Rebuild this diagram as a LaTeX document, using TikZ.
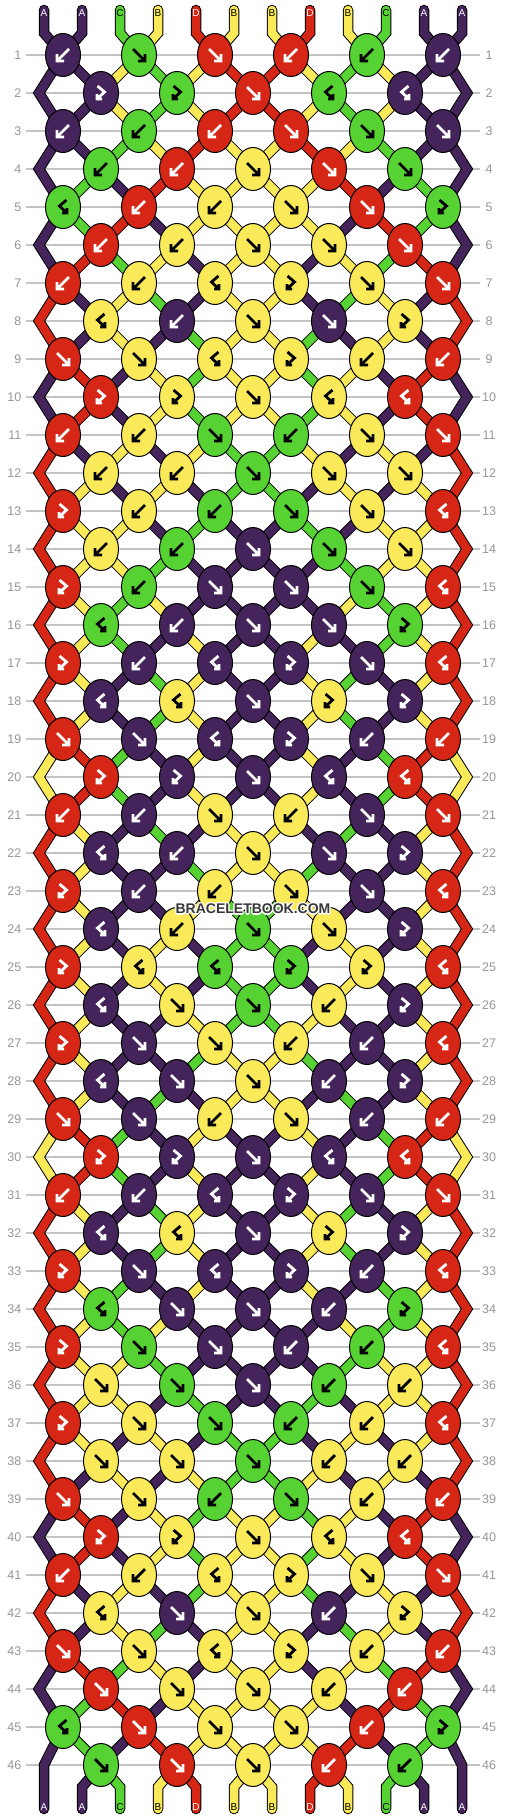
\documentclass[tikz,border=0pt]{standalone}
\usepackage{fontspec}
\setmainfont{Liberation Sans}
\usetikzlibrary{shapes.geometric}
\pgfdeclarelayer{back}
\pgfdeclarelayer{bg}
\pgfdeclarelayer{top}
\pgfsetlayers{back,bg,main,top}
\definecolor{cA}{RGB}{68,36,90}
\definecolor{cB}{RGB}{250,234,90}
\definecolor{cC}{RGB}{86,210,50}
\definecolor{cD}{RGB}{213,38,22}
\colorlet{aA}{white}\colorlet{aB}{black}\colorlet{aC}{black}\colorlet{aD}{white}
\colorlet{lA}{white}\colorlet{lB}{black}\colorlet{lC}{black}\colorlet{lD}{white}
\definecolor{numgray}{RGB}{150,150,150}
\definecolor{linegray}{RGB}{195,195,195}
\definecolor{wmcol}{RGB}{55,55,55}
\newcommand\defrow[2]{\expandafter\def\csname kr#1\endcsname{#2}}
\newcommand\KsSet[2]{\expandafter\xdef\csname ks#1\endcsname{#2}}
\newcommand\KsGet[1]{\csname ks#1\endcsname}
\def\Tf{f}\def\Tb{b}\def\Tfb{fb}\def\Tbf{bf}
\defrow{1}{b,f,f,b,b,b}
\defrow{2}{fb,fb,f,bf,bf}
\defrow{3}{b,b,b,f,f,f}
\defrow{4}{b,b,f,f,f}
\defrow{5}{bf,b,b,f,f,fb}
\defrow{6}{b,b,f,f,f}
\defrow{7}{b,b,bf,fb,f,f}
\defrow{8}{bf,b,f,f,fb}
\defrow{9}{f,f,bf,fb,b,b}
\defrow{10}{fb,fb,f,bf,bf}
\defrow{11}{b,b,f,b,f,f}
\defrow{12}{b,b,f,f,f}
\defrow{13}{fb,b,b,f,f,bf}
\defrow{14}{b,b,f,f,f}
\defrow{15}{fb,b,f,f,f,bf}
\defrow{16}{bf,b,f,f,fb}
\defrow{17}{fb,b,bf,fb,f,bf}
\defrow{18}{bf,bf,f,fb,fb}
\defrow{19}{f,f,bf,fb,b,b}
\defrow{20}{fb,fb,f,bf,bf}
\defrow{21}{b,b,f,b,f,f}
\defrow{22}{bf,b,f,f,fb}
\defrow{23}{fb,b,b,f,f,bf}
\defrow{24}{bf,b,f,f,fb}
\defrow{25}{fb,bf,bf,fb,fb,bf}
\defrow{26}{bf,f,f,b,fb}
\defrow{27}{fb,f,f,b,b,bf}
\defrow{28}{bf,f,f,b,fb}
\defrow{29}{f,f,b,f,b,b}
\defrow{30}{fb,fb,f,bf,bf}
\defrow{31}{b,b,bf,fb,f,f}
\defrow{32}{bf,bf,f,fb,fb}
\defrow{33}{fb,f,bf,fb,b,bf}
\defrow{34}{bf,f,f,b,fb}
\defrow{35}{fb,f,f,b,b,bf}
\defrow{36}{f,f,f,b,b}
\defrow{37}{fb,f,f,b,b,bf}
\defrow{38}{f,f,f,b,b}
\defrow{39}{f,f,b,f,b,b}
\defrow{40}{fb,fb,f,bf,bf}
\defrow{41}{b,b,bf,fb,f,f}
\defrow{42}{bf,f,f,b,fb}
\defrow{43}{f,f,bf,fb,b,b}
\defrow{44}{f,f,f,b,b}
\defrow{45}{bf,f,f,f,b,fb}
\defrow{46}{f,f,f,b,b}
\tikzset{
  knot/.style={ellipse, draw=black, line width=1pt, minimum width=35pt, minimum height=43pt, inner sep=0pt},
  conn/.style={draw=black, line width=1pt, double=#1, double distance=8.5pt, line join=miter, line cap=butt},
  gly/.style={draw=#1, line width=2.8pt, line cap=butt, line join=miter},
  rownum/.style={text=numgray, font=\fontsize{12.5}{12.5}\selectfont, inner sep=0pt},
  toplab/.style={font=\fontsize{10}{10}\selectfont, inner sep=0pt},
  wmk/.style={font=\fontsize{14}{14}\selectfont\bfseries, inner sep=0pt},
}
% incoming connector: #1 position, #2 colour letter, #3 row, #4 knot index
\newcommand\inconn[4]{%
  \edef\conncol{c#2}%
  \ifnum#3=1
    \draw[conn=\conncol, line cap=round] (ts-#1) -- (tb-#1) -- (k-#3-#4.center);
  \else
    \pgfmathtruncatemacro\rprev{#3-1}%
    \pgfmathtruncatemacro\rpprev{#3-2}%
    \pgfmathtruncatemacro\oddprev{mod(\rprev,2)}%
    \ifnum\oddprev=1
      \pgfmathtruncatemacro\srcj{(#1+1)/2}%
      \draw[conn=\conncol] (k-\rprev-\srcj.center) -- (k-#3-#4.center);
    \else
      \ifnum#1=1
        \draw[conn=\conncol] (k-\rpprev-1.center) -- (e-\rprev-1) -- (k-#3-#4.center);
      \else\ifnum#1=12
        \draw[conn=\conncol] (k-\rpprev-6.center) -- (e-\rprev-12) -- (k-#3-#4.center);
      \else
        \pgfmathtruncatemacro\srcj{#1/2}%
        \draw[conn=\conncol] (k-\rprev-\srcj.center) -- (k-#3-#4.center);
      \fi\fi
    \fi
  \fi}
% glyph: #1 type, #2 colour, #3 node
\newcommand\drawglyph[3]{%
  \edef\gtmp{#1}\edef\gcol{#2}%
  \ifx\gtmp\Tf
    \draw[gly=\gcol, shift={(#3.center)}] (-6,-6)--(6,6) (6,-1)--(6,6)--(-1,6);\fi
  \ifx\gtmp\Tb
    \draw[gly=\gcol, shift={(#3.center)}] (6,-6)--(-6,6) (-6,-1)--(-6,6)--(1,6);\fi
  \ifx\gtmp\Tfb
    \draw[gly=\gcol, shift={(#3.center)}] (-3.5,-7)--(3.5,-1)--(-4,6) (-4,1)--(-4,6)--(1,6);\fi
  \ifx\gtmp\Tbf
    \draw[gly=\gcol, shift={(#3.center)}] (3.5,-7)--(-3.5,-1)--(4,6) (4,1)--(4,6)--(-1,6);\fi
}
\begin{document}
\begin{tikzpicture}[x=1pt,y=-1pt]
\useasboundingbox (0,0) rectangle (506,1820);
% background, row numbers and guide lines (one layer block)
\begin{pgfonlayer}{back}
  \fill[white] (0,0) rectangle (506,1820);
  \foreach \rw in {1,...,46}{%
    \pgfmathsetmacro\y{55+38*(\rw-1)}%
    \node[rownum, anchor=east] (nl-\rw) at (21.5,\y) {\rw};
    \node[rownum] (nr-\rw) at (489,\y) {\rw};
    \coordinate (gl-\rw) at (26,\y);
    \coordinate (gr-\rw) at (480,\y);
    \draw[linegray, line width=1.3pt] (gl-\rw) -- (gr-\rw);
  }
\end{pgfonlayer}
% initial strings and top labels
\foreach \stc [count=\ps] in {A,A,C,B,D,B,B,D,B,C,A,A}{%
  \KsSet{\ps}{\stc}%
  \pgfmathsetmacro\xp{44+38*(\ps-1)}%
  \edef\lcol{l\stc}%
  \coordinate (ts-\ps) at (\xp,10);
  \coordinate (tb-\ps) at (\xp,33);
  \node[toplab, text=\lcol] (tl-\ps) at (\xp,13.5) {\stc};
}
% pass 1: knots (simulation)
\foreach \rw in {1,...,46}{%
  \pgfmathtruncatemacro\rodd{mod(\rw,2)}%
  \pgfmathsetmacro\y{55+38*(\rw-1)}%
  \ifnum\rodd=0
    \coordinate (e-\rw-1) at (39,\y);
    \coordinate (e-\rw-12) at (467,\y);
  \fi
  \expandafter\let\expandafter\types\csname kr\rw\endcsname
  \foreach \kt [count=\ki] in \types {%
    \ifnum\rodd=1
      \pgfmathtruncatemacro\posa{2*\ki-1}%
      \pgfmathsetmacro\x{76*\ki-13}%
    \else
      \pgfmathtruncatemacro\posa{2*\ki}%
      \pgfmathsetmacro\x{25+76*\ki}%
    \fi
    \pgfmathtruncatemacro\posb{\posa+1}%
    \edef\cL{\KsGet{\posa}}\edef\cR{\KsGet{\posb}}%
    \expandafter\xdef\csname inL\rw-\ki\endcsname{\cL}%
    \expandafter\xdef\csname inR\rw-\ki\endcsname{\cR}%
    \edef\ktt{\kt}%
    \ifx\ktt\Tf \edef\cK{\cL}\def\sw{1}\fi
    \ifx\ktt\Tb \edef\cK{\cR}\def\sw{1}\fi
    \ifx\ktt\Tfb \edef\cK{\cL}\def\sw{0}\fi
    \ifx\ktt\Tbf \edef\cK{\cR}\def\sw{0}\fi
    \edef\kfill{c\cK}%
    \node[knot, fill=\kfill] (k-\rw-\ki) at (\x,\y) {};
    \drawglyph{\ktt}{a\cK}{k-\rw-\ki}%
    \ifnum\sw=1 \KsSet{\posa}{\cR}\KsSet{\posb}{\cL}\fi
  }%
}
% pass 2: connectors (one layer block)
\begin{pgfonlayer}{bg}
\foreach \rw in {1,...,46}{%
  \pgfmathtruncatemacro\rodd{mod(\rw,2)}%
  \ifnum\rodd=1 \def\nk{6}\else\def\nk{5}\fi
  \foreach \ki in {1,...,\nk}{%
    \ifnum\rodd=1
      \pgfmathtruncatemacro\posa{2*\ki-1}%
    \else
      \pgfmathtruncatemacro\posa{2*\ki}%
    \fi
    \pgfmathtruncatemacro\posb{\posa+1}%
    \edef\cL{\csname inL\rw-\ki\endcsname}%
    \edef\cR{\csname inR\rw-\ki\endcsname}%
    \inconn{\posa}{\cL}{\rw}{\ki}%
    \inconn{\posb}{\cR}{\rw}{\ki}%
  }%
}
% bottom strings
\foreach \ps in {1,...,12}{%
  \pgfmathsetmacro\xp{44+38*(\ps-1)}%
  \edef\stc{\KsGet{\ps}}%
  \edef\conncol{c\stc}%
  \coordinate (bs-\ps) at (\xp,1809);
  \ifnum\ps=1
    \coordinate (bc-\ps) at (\xp,1765);
    \draw[conn=\conncol, line cap=round] (k-45-1.center) -- (bc-\ps) -- (bs-\ps);
  \else\ifnum\ps=12
    \coordinate (bc-\ps) at (\xp,1765);
    \draw[conn=\conncol, line cap=round] (k-45-6.center) -- (bc-\ps) -- (bs-\ps);
  \else
    \pgfmathtruncatemacro\sj{\ps/2}%
    \coordinate (bc-\ps) at (\xp,1787);
    \draw[conn=\conncol, line cap=round] (k-46-\sj.center) -- (bc-\ps) -- (bs-\ps);
  \fi\fi
}
\end{pgfonlayer}
% bottom labels
\foreach \ps in {1,...,12}{%
  \pgfmathsetmacro\xp{44+38*(\ps-1)}%
  \edef\stc{\KsGet{\ps}}%
  \edef\lcol{l\stc}%
  \node[toplab, text=\lcol] (bl-\ps) at (\xp,1807) {\stc};
}
% watermark
\begin{pgfonlayer}{top}
\foreach \dx/\dy [count=\hn] in {-1.2/0,1.2/0,0/-1.2,0/1.2,-1/-1,1/1,-1/1,1/-1}{%
  \node[wmk, text=white] (wh-\hn) at (253+\dx,909+\dy) {BRACELETBOOK.COM};
}
\node[wmk, text=wmcol] (wmark) at (253,909) {BRACELETBOOK.COM};
\end{pgfonlayer}
\end{tikzpicture}
\end{document}
